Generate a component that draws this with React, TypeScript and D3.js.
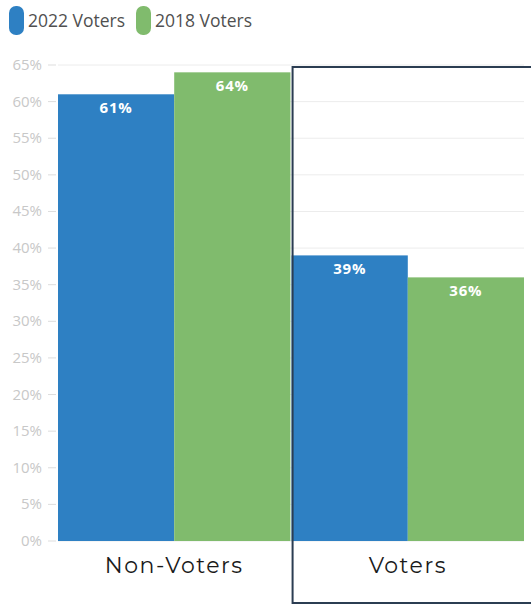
import React from "react";
import * as d3 from "d3";

const categories = ["Non-Voters", "Voters"];
const seriesNames = ["2022 Voters", "2018 Voters"];
const values2022 = [61, 39];
const values2018 = [64, 36];
const yTicks = [0, 5, 10, 15, 20, 25, 30, 35, 40, 45, 50, 55, 60, 65];
const colors = ["#2e80c3", "#80bb6d"];

const W = 531;
const H = 605;
const margin = { left: 58, right: 7, top: 65, bottom: 64 };

export default function App() {
  const x0 = d3
    .scaleBand<string>()
    .domain(categories)
    .range([margin.left, W - margin.right])
    .paddingInner(0.005)
    .paddingOuter(0);
  const x1 = d3.scaleBand<string>().domain(seriesNames).range([0, x0.bandwidth()]).padding(0);
  const y = d3.scaleLinear().domain([0, 65]).range([H - margin.bottom, margin.top]);
  const series = [values2022, values2018];
  const tf = "'Source Sans Pro', 'Open Sans', Lato, sans-serif";

  return (
    <svg width={W} height={H} style={{ position: "absolute", left: 0, top: 0, background: "#fff" }}>
      {/* legend */}
      <g>
        {seriesNames.map((s, i) => {
          const lx = [9, 136][i];
          return (
            <g key={s}>
              <rect x={lx} y={6} width={15} height={29} rx={7} fill={colors[i]} />
              <text x={lx + 19} y={27} fontFamily={tf} fontSize={17.5} fill="#505050">
                {s}
              </text>
            </g>
          );
        })}
      </g>
      {/* gridlines */}
      {yTicks.map((t) => (
        <g key={t}>
          <line x1={margin.left} x2={W - margin.right} y1={y(t)} y2={y(t)} stroke="#ececec" strokeWidth={1} />
          <line x1={48} x2={56} y1={y(t)} y2={y(t)} stroke="#ddd" strokeWidth={1} />
          <text x={42} y={y(t) + 5} textAnchor="end" fontFamily={tf} fontSize={15} fill="#c8c8c8">
            {t}%
          </text>
        </g>
      ))}
      {/* bars */}
      {categories.map((c, ci) => (
        <g key={c} transform={`translate(${x0(c)},0)`}>
          {series.map((vals, si) => {
            const bx = x1(seriesNames[si])!;
            const top = y(vals[ci]);
            return (
              <g key={si}>
                <rect x={bx} y={top} width={x1.bandwidth()} height={y(0) - top} fill={colors[si]} />
                <text
                  x={bx + x1.bandwidth() / 2}
                  y={top + 19}
                  textAnchor="middle"
                  fontFamily={tf}
                  fontSize={15}
                  fontWeight="bold"
                  letterSpacing={0.8}
                  fill="#fff"
                >
                  {vals[ci]}%
                </text>
              </g>
            );
          })}
          <text
            x={x0.bandwidth() / 2}
            y={H - margin.bottom + 32}
            textAnchor="middle"
            fontFamily="Montserrat, 'Open Sans', sans-serif"
            fontSize={22}
            letterSpacing={1.5}
            fill="#1a1a1a"
          >
            {c}
          </text>
        </g>
      ))}
      {/* highlight box */}
      <rect
        x={x0("Voters")! + 1}
        y={67}
        width={300}
        height={536}
        fill="none"
        stroke="#2b3d52"
        strokeWidth={2}
      />
    </svg>
  );
}
